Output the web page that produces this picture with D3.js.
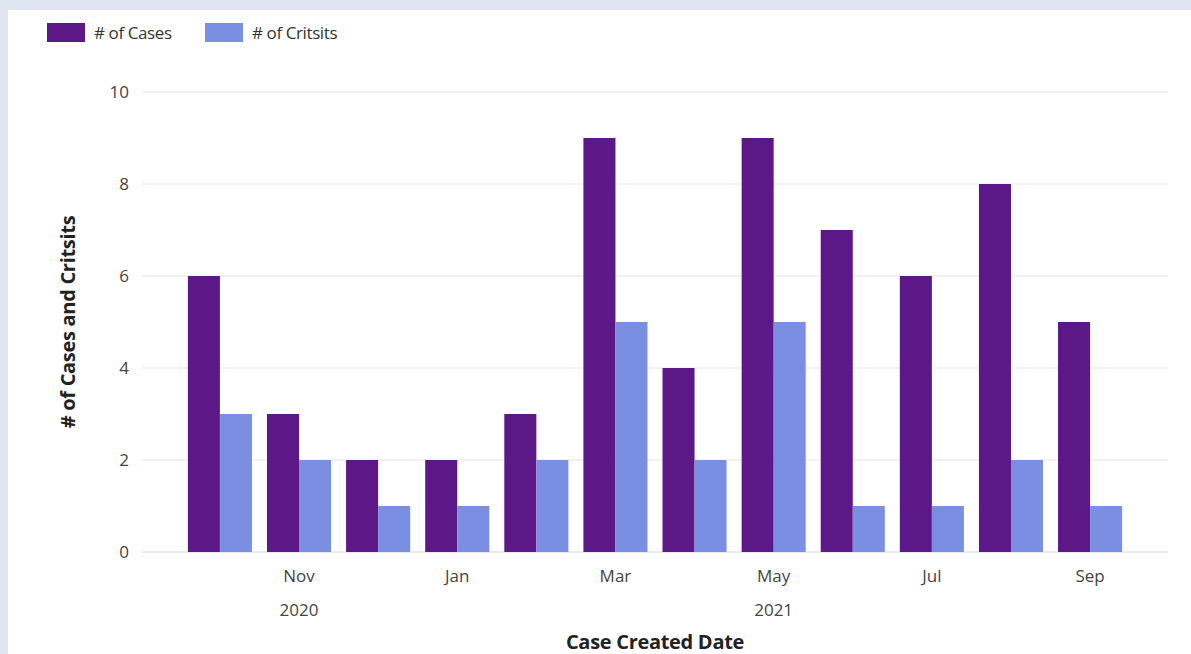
<!DOCTYPE html>
<html><head><meta charset="utf-8">
<script src="https://cdn.jsdelivr.net/npm/d3@7"></script>
<style>
html,body{margin:0;padding:0;background:#dfe5f1;}
svg{display:block;}
</style></head>
<body>
<svg id="c" width="1191" height="654"></svg>
<script>
const months = ["Oct","Nov","Dec","Jan","Feb","Mar","Apr","May","Jun","Jul","Aug","Sep"];
const years  = ["2020","2020","2020","2021","2021","2021","2021","2021","2021","2021","2021","2021"];
const cases    = [6,3,2,2,3,9,4,9,7,6,8,5];
const critsits = [3,2,1,1,2,5,2,5,1,1,2,1];
const seriesNames = ["# of Cases","# of Critsits"];
const yTicks = [0,2,4,6,8,10];
const xTickLabels = ["Nov","Jan","Mar","May","Jul","Sep"];
const yearLabels = [{label:"2020", at:"Nov"},{label:"2021", at:"May"}];

const colors = ["#5c1886","#7a8fe1"];
const font = "'Open Sans','Noto Sans',sans-serif";

const svg = d3.select("#c");
// white panel
svg.append("rect").attr("x",8).attr("y",10).attr("width",1183).attr("height",644).attr("fill","#fff");

const keys = months.map((m,i)=>m+"-"+years[i]);
const x = d3.scaleBand().domain(keys).range([142,1168]).paddingInner(0.19).paddingOuter(0.58);
const x1 = d3.scaleBand().domain([0,1]).range([0,x.bandwidth()]);
const y = d3.scaleLinear().domain([0,10]).range([552,92]);

// gridlines
svg.append("g").selectAll("line").data(yTicks).join("line")
  .attr("x1",142).attr("x2",1168)
  .attr("y1",d=>y(d)).attr("y2",d=>y(d))
  .attr("stroke",d=>d===0?"#d6d6d6":"#e6e6e6").attr("stroke-width",1.2);

// y tick labels
svg.append("g").selectAll("text").data(yTicks).join("text")
  .attr("x",129).attr("y",d=>y(d)).attr("dy","0.35em")
  .attr("text-anchor","end").attr("font-family",font).attr("font-size",17).attr("fill","#444")
  .text(d=>d);

// bars
const data = keys.map((k,i)=>({k, v:[cases[i],critsits[i]]}));
const g = svg.append("g").selectAll("g").data(data).join("g")
  .attr("transform",d=>`translate(${x(d.k)},0)`);
g.selectAll("rect").data(d=>d.v.map((v,j)=>({v,j}))).join("rect")
  .attr("x",d=>x1(d.j)).attr("width",x1.bandwidth())
  .attr("y",d=>y(d.v)).attr("height",d=>y(0)-y(d.v))
  .attr("fill",d=>colors[d.j]);

// x tick labels
const keyOf = m => keys[months.indexOf(m)];
svg.append("g").selectAll("text").data(xTickLabels).join("text")
  .attr("x",d=>x(keyOf(d))+x.bandwidth()/2).attr("y",582)
  .attr("text-anchor","middle").attr("font-family",font).attr("font-size",17).attr("fill","#444")
  .text(d=>d);
svg.append("g").selectAll("text").data(yearLabels).join("text")
  .attr("x",d=>x(keyOf(d.at))+x.bandwidth()/2).attr("y",616)
  .attr("text-anchor","middle").attr("font-family",font).attr("font-size",17).attr("fill","#444")
  .text(d=>d.label);

// axis titles
svg.append("text").attr("x",655).attr("y",649).attr("text-anchor","middle")
  .attr("font-family",font).attr("font-weight","bold").attr("font-size",20).attr("fill","#222")
  .attr("letter-spacing","-0.3")
  .text("Case Created Date");
svg.append("text").attr("transform","translate(75,322) rotate(-90)").attr("text-anchor","middle")
  .attr("font-family",font).attr("font-weight","bold").attr("font-size",20).attr("fill","#222")
  .attr("letter-spacing","-0.3")
  .text("# of Cases and Critsits");

// legend
const legX = [47,205];
const lg = svg.append("g").selectAll("g").data(seriesNames).join("g")
  .attr("transform",(d,i)=>`translate(${legX[i]},23)`);
lg.append("rect").attr("width",38).attr("height",19).attr("fill",(d,i)=>colors[i]);
lg.append("text").attr("x",47).attr("y",10).attr("dy","0.35em")
  .attr("font-family",font).attr("font-size",17).attr("fill","#333").attr("letter-spacing","-0.4").text(d=>d);
</script>
</body></html>
